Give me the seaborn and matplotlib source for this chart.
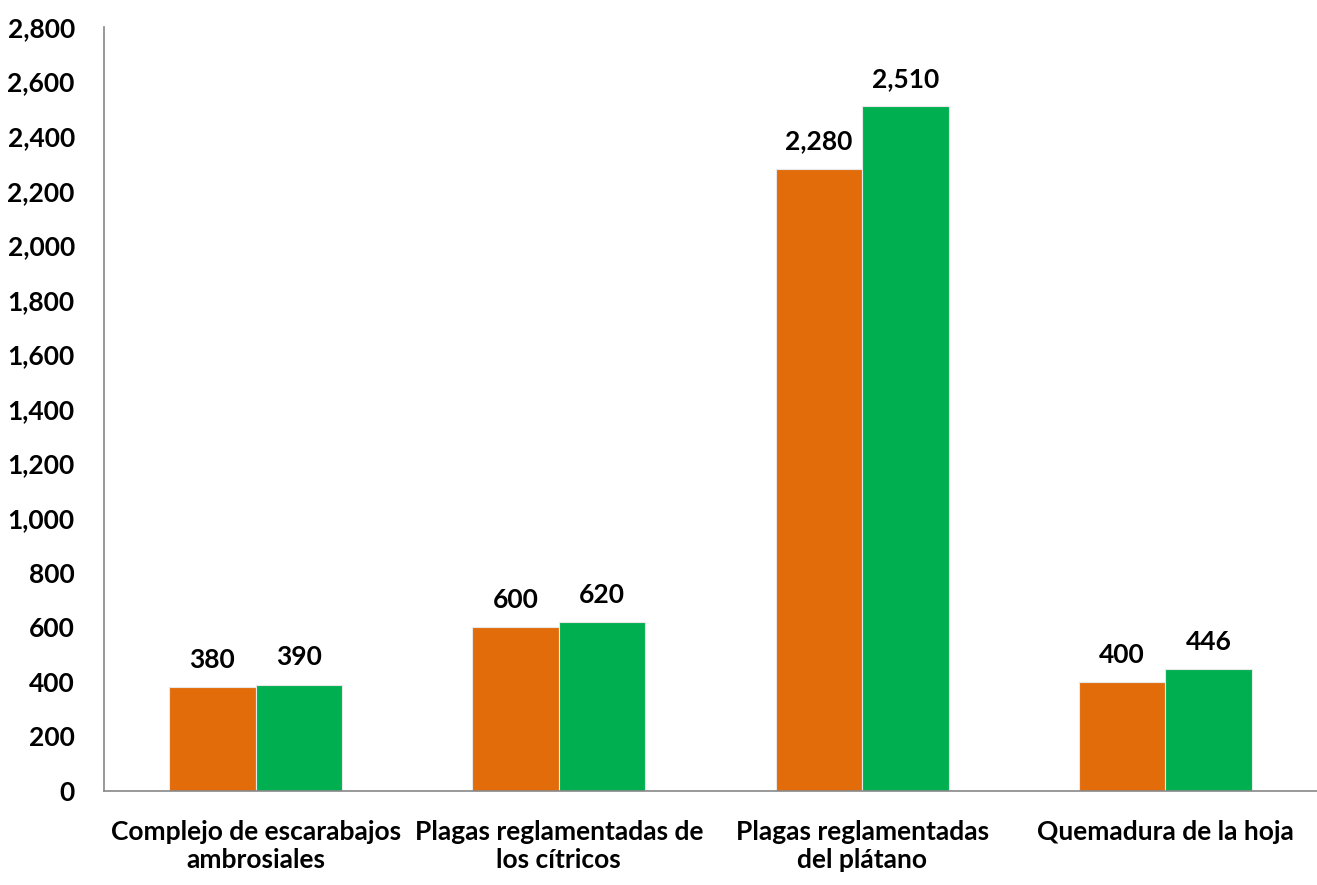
import matplotlib
matplotlib.use("Agg")
import matplotlib.pyplot as plt
import seaborn as sns
import pandas as pd
import numpy as np

# ---- data ----
categorias = [
    "Complejo de escarabajos\nambrosiales",
    "Plagas reglamentadas de\nlos cítricos",
    "Plagas reglamentadas\ndel plátano",
    "Quemadura de la hoja",
]
series = ["Serie 1", "Serie 2"]
valores_1 = [380, 600, 2280, 400]
valores_2 = [390, 620, 2510, 446]
colores = ["#E36C0A", "#00B050"]

df = pd.DataFrame({
    "categoria": categorias * 2,
    "serie": [series[0]] * 4 + [series[1]] * 4,
    "valor": valores_1 + valores_2,
})

sns.set_style("white")
plt.rcParams["font.family"] = ["Lato", "DejaVu Sans"]
plt.rcParams["font.weight"] = "bold"

FS = 19

fig = plt.figure(figsize=(13.17, 8.85), dpi=100)
ax = fig.add_axes([104 / 1317, 1 - 791 / 885, 1 - 104 / 1317, (791 - 27) / 885])

sns.barplot(data=df, x="categoria", y="valor", hue="serie", palette=colores,
            saturation=1, width=0.57, ax=ax, legend=False,
            edgecolor="#e8e8e8", linewidth=0.8)

for cont in ax.containers:
    ax.bar_label(cont, labels=[f"{v:,.0f}" for v in cont.datavalues],
                 padding=11, fontsize=FS, fontweight="bold", color="black")

ax.set_ylim(0, 2800)
ax.set_yticks(np.arange(0, 2801, 200))
ax.set_yticklabels([f"{v:,}" for v in range(0, 2801, 200)])
ax.set_xlim(-0.5, 3.5 - 7 / 305)
ax.set_xlabel("")
ax.set_ylabel("")

ax.set_xticks([-0.5, 0.5, 1.5, 2.5, 3.5], minor=True)
ax.tick_params(axis="x", which="major", length=0, pad=21, labelsize=FS,
               labelcolor="black")
ax.tick_params(axis="x", which="minor", length=7, color="#888888", width=1.2)
ax.tick_params(axis="y", length=6, color="#888888", width=1.2, pad=15,
               labelsize=FS, labelcolor="black")
for lab in ax.get_xticklabels() + ax.get_yticklabels():
    lab.set_fontweight("bold")
    lab.set_linespacing(1.2)

for s in ["top", "right"]:
    ax.spines[s].set_visible(False)
for s in ["left", "bottom"]:
    ax.spines[s].set_color("#888888")
    ax.spines[s].set_linewidth(1.2)

fig.savefig("out.png", dpi=100)
